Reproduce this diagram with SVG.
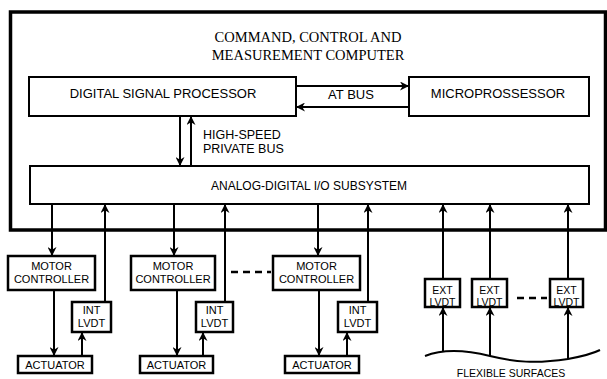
<svg xmlns="http://www.w3.org/2000/svg" width="607" height="379" viewBox="0 0 607 379">
<defs>
<style>
.box{fill:#fff;stroke:#000;stroke-width:2}
.sbox{fill:#fff;stroke:#000;stroke-width:2.5}
.t{font-family:"Liberation Sans",Arial,sans-serif;fill:#000;text-anchor:middle}
.ttl{font-family:"Liberation Serif","Times New Roman",serif;font-size:14.5px;fill:#000;text-anchor:middle}
.ln{fill:none;stroke:#000;stroke-width:2}
.ar{fill:none;stroke:#000;stroke-width:2;marker-end:url(#ah)}
.dash{fill:none;stroke:#000;stroke-width:2.5;stroke-dasharray:7,5}
</style>
<marker id="ah" viewBox="0 0 10 10" refX="10" refY="5" markerWidth="4.5" markerHeight="4.5" markerUnits="strokeWidth" orient="auto">
<path d="M0,0 L10,5 L0,10 L3,5 Z" fill="#000"/>
</marker>
</defs>
<rect width="607" height="379" fill="#fff"/>
<g id="computer">
<rect x="10.5" y="12" width="595" height="218" fill="none" stroke="#000" stroke-width="3.5"/>
<text class="ttl" x="308" y="42">COMMAND, CONTROL AND</text>
<text class="ttl" x="308" y="60">MEASUREMENT COMPUTER</text>
</g>
<g id="dsp">
<rect class="box" x="29" y="77" width="267" height="39"/>
<text class="t" x="163" y="98" font-size="13">DIGITAL SIGNAL PROCESSOR</text>
</g>
<g id="micro">
<rect class="box" x="409" y="77" width="180" height="39"/>
<text class="t" x="498" y="98" font-size="13">MICROPROSSESSOR</text>
</g>
<g id="adc">
<rect class="box" x="30" y="166" width="559" height="38"/>
<text class="t" x="309" y="190" font-size="12">ANALOG-DIGITAL I/O SUBSYSTEM</text>
</g>
<g id="mc1">
<rect class="sbox" x="8" y="256" width="87" height="34"/>
<text class="t" x="51.5" y="270" font-size="11">MOTOR</text>
<text class="t" x="51.5" y="283" font-size="11">CONTROLLER</text>
</g>
<g id="mc2">
<rect class="sbox" x="131" y="256" width="84" height="34"/>
<text class="t" x="173" y="270" font-size="11">MOTOR</text>
<text class="t" x="173" y="283" font-size="11">CONTROLLER</text>
</g>
<g id="mc3">
<rect class="sbox" x="273" y="256" width="87" height="34"/>
<text class="t" x="316.5" y="270" font-size="11">MOTOR</text>
<text class="t" x="316.5" y="283" font-size="11">CONTROLLER</text>
</g>
<g id="lvdt1">
<rect class="sbox" x="72" y="302" width="39" height="30"/>
<text class="t" x="91.5" y="314" font-size="11">INT</text>
<text class="t" x="91.5" y="327" font-size="11">LVDT</text>
</g>
<g id="lvdt2">
<rect class="sbox" x="196" y="302" width="37" height="30"/>
<text class="t" x="214.5" y="314" font-size="11">INT</text>
<text class="t" x="214.5" y="327" font-size="11">LVDT</text>
</g>
<g id="lvdt3">
<rect class="sbox" x="338" y="302" width="39" height="30"/>
<text class="t" x="357.5" y="314" font-size="11">INT</text>
<text class="t" x="357.5" y="327" font-size="11">LVDT</text>
</g>
<g id="act1">
<rect class="sbox" x="18" y="356" width="74" height="17"/>
<text class="t" x="55" y="368.5" font-size="11">ACTUATOR</text>
</g>
<g id="act2">
<rect class="sbox" x="140" y="356" width="73" height="17"/>
<text class="t" x="176.5" y="368.5" font-size="11">ACTUATOR</text>
</g>
<g id="act3">
<rect class="sbox" x="285" y="356" width="74" height="17"/>
<text class="t" x="322" y="368.5" font-size="11">ACTUATOR</text>
</g>
<g id="ext1">
<rect class="sbox" x="425" y="279" width="35" height="28"/>
<text class="t" x="442.5" y="294" font-size="10.5">EXT</text>
<text class="t" x="442.5" y="305.5" font-size="10.5">LVDT</text>
</g>
<g id="ext2">
<rect class="sbox" x="472" y="279" width="35" height="28"/>
<text class="t" x="489.5" y="294" font-size="10.5">EXT</text>
<text class="t" x="489.5" y="305.5" font-size="10.5">LVDT</text>
</g>
<g id="ext3">
<rect class="sbox" x="550" y="279" width="33" height="28"/>
<text class="t" x="566.5" y="294" font-size="10.5">EXT</text>
<text class="t" x="566.5" y="305.5" font-size="10.5">LVDT</text>
</g>
<g id="surfaces">
<path class="ln" d="M425,356 C440,350 462,349 490,356 C515,362 535,364 568,359 C584,356 594,353 600,350"/>
<text class="t" x="511" y="377" font-size="10.5">FLEXIBLE SURFACES</text>
</g>
<g id="connectors">
<line class="ar" x1="296" y1="86" x2="409" y2="86"/>
<line class="ar" x1="409" y1="107" x2="296" y2="107"/>
<text class="t" x="351" y="99" font-size="13">AT BUS</text>
<line class="ar" x1="180" y1="116" x2="180" y2="166"/>
<line class="ar" x1="191" y1="166" x2="191" y2="116"/>
<text x="203" y="139" font-size="12.5" font-family="Liberation Sans,Arial,sans-serif">HIGH-SPEED</text>
<text x="203" y="153" font-size="12.5" font-family="Liberation Sans,Arial,sans-serif">PRIVATE BUS</text>
<line class="ar" x1="52" y1="204" x2="52" y2="256"/>
<line class="ar" x1="174" y1="204" x2="174" y2="256"/>
<line class="ar" x1="318" y1="204" x2="318" y2="256"/>
<line class="ar" x1="105" y1="302" x2="105" y2="204"/>
<line class="ar" x1="225" y1="302" x2="225" y2="204"/>
<line class="ar" x1="368" y1="302" x2="368" y2="204"/>
<line class="ar" x1="54" y1="290" x2="54" y2="356"/>
<line class="ar" x1="177" y1="290" x2="177" y2="356"/>
<line class="ar" x1="319" y1="290" x2="319" y2="356"/>
<line class="ar" x1="82" y1="356" x2="82" y2="332"/>
<line class="ar" x1="203" y1="356" x2="203" y2="332"/>
<line class="ar" x1="347" y1="356" x2="347" y2="332"/>
<line class="ar" x1="443" y1="279" x2="443" y2="204"/>
<line class="ar" x1="490" y1="279" x2="490" y2="204"/>
<line class="ar" x1="568" y1="279" x2="568" y2="204"/>
<line class="ar" x1="443" y1="351" x2="443" y2="307"/>
<line class="ar" x1="490" y1="356" x2="490" y2="307"/>
<line class="ar" x1="568" y1="359" x2="568" y2="307"/>
<line class="dash" x1="231" y1="272" x2="271" y2="272"/>
<line class="dash" x1="517" y1="298" x2="547" y2="298"/>
</g>
</svg>
